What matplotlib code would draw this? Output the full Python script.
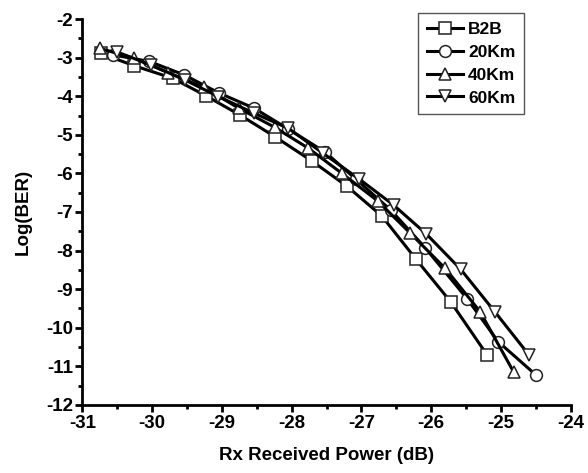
import matplotlib
matplotlib.use("Agg")
import matplotlib.pyplot as plt
from matplotlib.ticker import MultipleLocator

plt.rcParams["font.family"] = ["Liberation Sans", "DejaVu Sans"]
plt.rcParams["font.weight"] = "bold"
plt.rcParams["axes.unicode_minus"] = False

# Rx power (dB) and log10(BER)
b2b_x = [-30.74, -30.26, -29.70, -29.23, -28.74, -28.24, -27.71, -27.21, -26.71, -26.22, -25.72, -25.20]
b2b_y = [-2.89, -3.21, -3.54, -3.99, -4.49, -5.05, -5.68, -6.33, -7.10, -8.22, -9.33, -10.70]

km20_x = [-30.56, -30.04, -29.54, -29.04, -28.54, -28.05, -27.52, -27.08, -26.58, -26.09, -25.48, -25.04, -24.50]
km20_y = [-2.93, -3.10, -3.45, -3.92, -4.31, -4.85, -5.45, -6.15, -6.95, -7.92, -9.26, -10.36, -11.22]

km40_x = [-30.75, -30.26, -29.77, -29.26, -28.76, -28.24, -27.76, -27.28, -26.77, -26.30, -25.80, -25.30, -24.82]
km40_y = [-2.76, -3.02, -3.39, -3.77, -4.31, -4.81, -5.35, -6.00, -6.71, -7.55, -8.46, -9.58, -11.14]

km60_x = [-30.51, -30.02, -29.53, -29.05, -28.54, -28.05, -27.55, -27.03, -26.54, -26.07, -25.58, -25.09, -24.60]
km60_y = [-2.85, -3.19, -3.58, -4.01, -4.44, -4.83, -5.48, -6.15, -6.82, -7.57, -8.48, -9.58, -10.70]

series = [
    ("B2B", b2b_x, b2b_y, "s"),
    ("20Km", km20_x, km20_y, "o"),
    ("40Km", km40_x, km40_y, "^"),
    ("60Km", km60_x, km60_y, "v"),
]

fig = plt.figure(figsize=(5.88, 4.73), dpi=100)
ax = fig.add_axes([0.1403, 0.1438, 0.8303, 0.816])

for label, xs, ys, marker in series:
    ax.plot(xs, ys, color="black", linewidth=2.2, marker=marker, markersize=8.5,
            markerfacecolor="white", markeredgecolor="#222222", markeredgewidth=1.1,
            label=label)

ax.set_xlim(-31, -24)
ax.set_ylim(-12, -2)
ax.xaxis.set_major_locator(MultipleLocator(1))
ax.xaxis.set_minor_locator(MultipleLocator(0.5))
ax.yaxis.set_major_locator(MultipleLocator(1))
ax.yaxis.set_minor_locator(MultipleLocator(0.5))

for side in ["top", "right"]:
    ax.spines[side].set_visible(False)
for side in ["left", "bottom"]:
    ax.spines[side].set_linewidth(2)

ax.tick_params(which="major", direction="out", length=5, width=2, labelsize=13.5, pad=2)
ax.tick_params(which="minor", direction="out", length=3, width=2)
for lbl in ax.get_xticklabels() + ax.get_yticklabels():
    lbl.set_fontweight("bold")

ax.set_xlabel("Rx Received Power (dB)", fontsize=13.5, fontweight="bold", labelpad=11)
ax.set_ylabel("Log(BER)", fontsize=13.5, fontweight="bold", labelpad=10)

leg = ax.legend(loc="upper left", bbox_to_anchor=(0.687, 1.016), fontsize=12.5,
                handlelength=2.1, handletextpad=0.3, labelspacing=0.45,
                borderpad=0.5, borderaxespad=0, fancybox=False, framealpha=1)
leg.get_frame().set_edgecolor("#555555")
leg.get_frame().set_linewidth(1)
for t in leg.get_texts():
    t.set_fontweight("bold")

plt.savefig("out.png", dpi=100)
plt.close()
